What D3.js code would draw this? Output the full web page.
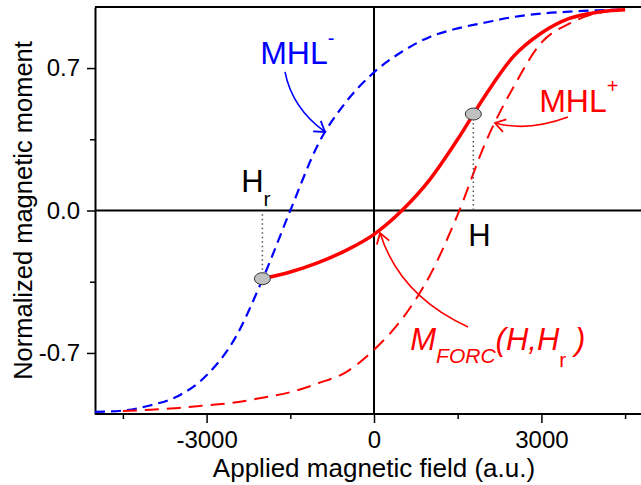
<!DOCTYPE html>
<html>
<head>
<meta charset="utf-8">
<script src="https://cdn.jsdelivr.net/npm/d3@7"></script>
<style>
  body { margin: 0; background: #fff; }
  svg { display: block; font-family: Arial, "Liberation Sans", sans-serif; }
</style>
</head>
<body>
<div id="chart"></div>
<script>
// Descending major loop branch (MHL-)
const fieldDesc = [-5000, -4500, -4000, -3500, -3000, -2500, -2000, -1500, -1000, -500,
    0, 500, 1000, 1500, 2000, 2500, 3000, 3500, 4000, 4500];
const mhlMinus = [-0.99, -0.983, -0.957, -0.91, -0.81, -0.632, -0.34, 0.0, 0.326, 0.534,
    0.679, 0.78, 0.853, 0.895, 0.924, 0.951, 0.968, 0.977, 0.984, 0.988];

// Ascending major loop branch (MHL+)
const fieldAsc = [-4500, -4000, -3500, -3000, -2500, -2000, -1500, -1000, -500,
    0, 500, 1000, 1500, 2000, 2500, 3000, 3500, 4000, 4500];
const mhlPlus = [-0.985, -0.979, -0.970, -0.957, -0.944, -0.92, -0.893, -0.849, -0.794,
    -0.684, -0.534, -0.32, -0.02, 0.335, 0.607, 0.825, 0.918, 0.97, 0.986];

// First-order reversal curve starting at Hr
const forcField = [-2000, -1500, -1000, -500, 0, 500, 1000, 1500, 2000, 2500, 3000, 3500, 4000, 4500];
const forcMoment = [-0.335, -0.302, -0.256, -0.196, -0.117, 0.0, 0.152, 0.35, 0.568, 0.757,
    0.872, 0.944, 0.974, 0.986];

// Marked points
const reversalField = -2000, reversalMoment = -0.335;
const pointField = 1780, pointMoment = 0.474;

// Ticks
const xMajor = [-3000, 0, 3000];
const xMinor = [-4500, -1500, 1500, 4500];
const yMajor = [-0.7, 0, 0.7];
const yMinor = [-0.35, 0.35];

const svgW = 641, svgH = 485;
const plotL = 95, plotR = 653, plotT = 7, plotB = 414;
const fontFam = "Arial, 'Liberation Sans', sans-serif";

const svg = d3.select("#chart")
    .append("svg")
    .attr("width", svgW)
    .attr("height", svgH);

const x = d3.scaleLinear().domain([-5000, 5000]).range([plotL, plotR]);
const y = d3.scaleLinear().domain([-1, 1]).range([plotB, plotT]);

const fmtX = d => String(d);
const fmtY = d => d3.format(".1f")(d).replace("−", "-");

// zero lines
svg.append("line")
    .attr("x1", x(0)).attr("x2", x(0))
    .attr("y1", plotT).attr("y2", plotB)
    .attr("stroke", "#000").attr("stroke-width", 2);
svg.append("line")
    .attr("x1", plotL).attr("x2", svgW)
    .attr("y1", y(0)).attr("y2", y(0))
    .attr("stroke", "#000").attr("stroke-width", 2);

// top frame
svg.append("line")
    .attr("x1", plotL).attr("x2", svgW)
    .attr("y1", plotT).attr("y2", plotT)
    .attr("stroke", "#000").attr("stroke-width", 2);

// X axis
const gx = svg.append("g").attr("transform", `translate(0,${plotB})`);
gx.call(d3.axisBottom(x).tickValues(xMajor).tickFormat(fmtX).tickSize(9).tickSizeOuter(0).tickPadding(8));
gx.append("g").call(d3.axisBottom(x).tickValues(xMinor).tickFormat("").tickSize(5).tickSizeOuter(0))
    .select(".domain").remove();
gx.selectAll(".domain").attr("stroke-width", 2).attr("d", `M${plotL},0H${svgW}`);
gx.selectAll(".tick line").attr("stroke-width", 1.5);
gx.selectAll(".tick text").attr("font-size", 24).attr("font-family", fontFam).attr("fill", "#000");

// Y axis
const gy = svg.append("g").attr("transform", `translate(${plotL},0)`);
gy.call(d3.axisLeft(y).tickValues(yMajor).tickFormat(fmtY).tickSize(8).tickSizeOuter(0).tickPadding(7));
gy.append("g").call(d3.axisLeft(y).tickValues(yMinor).tickFormat("").tickSize(5).tickSizeOuter(0))
    .select(".domain").remove();
gy.selectAll(".domain").attr("stroke-width", 2);
gy.selectAll(".tick line").attr("stroke-width", 1.5);
gy.selectAll(".tick text").attr("font-size", 24).attr("font-family", fontFam).attr("fill", "#000");

// axis labels
svg.append("text")
    .attr("x", x(0))
    .attr("y", 477)
    .attr("text-anchor", "middle")
    .attr("font-size", 26)
    .text("Applied magnetic field (a.u.)");

svg.append("text")
    .attr("transform", "rotate(-90)")
    .attr("x", -y(0))
    .attr("y", 32)
    .attr("text-anchor", "middle")
    .attr("font-size", 25.5)
    .text("Normalized magnetic moment");

// curves
const line = d3.line()
    .x(d => x(d[0]))
    .y(d => y(d[1]))
    .curve(d3.curveMonotoneX);

svg.append("path")
    .datum(d3.zip(fieldDesc, mhlMinus))
    .attr("d", line)
    .attr("fill", "none")
    .attr("stroke", "#0000ff")
    .attr("stroke-width", 2.2)
    .attr("stroke-dasharray", "10,6");

svg.append("path")
    .datum(d3.zip(fieldAsc, mhlPlus))
    .attr("d", line)
    .attr("fill", "none")
    .attr("stroke", "#ff0000")
    .attr("stroke-width", 2)
    .attr("stroke-dasharray", "14,8");

svg.append("path")
    .datum(d3.zip(forcField, forcMoment))
    .attr("d", line)
    .attr("fill", "none")
    .attr("stroke", "#ff0000")
    .attr("stroke-width", 3.5);

// dotted guides to the field axis
svg.append("line")
    .attr("x1", x(reversalField)).attr("x2", x(reversalField))
    .attr("y1", y(reversalMoment)).attr("y2", y(0) + 2)
    .attr("stroke", "#555").attr("stroke-width", 1.5).attr("stroke-dasharray", "1.5,3");
svg.append("line")
    .attr("x1", x(pointField)).attr("x2", x(pointField))
    .attr("y1", y(pointMoment)).attr("y2", y(0) - 1)
    .attr("stroke", "#555").attr("stroke-width", 1.5).attr("stroke-dasharray", "1.5,3");

svg.selectAll(".marker-dot")
    .data([[reversalField, reversalMoment], [pointField, pointMoment]])
    .enter()
    .append("ellipse")
    .attr("cx", d => x(d[0]))
    .attr("cy", d => y(d[1]))
    .attr("rx", 8)
    .attr("ry", 6)
    .attr("fill", "#c0c0c0")
    .attr("stroke", "#333")
    .attr("stroke-width", 1);

// arrow heads
const defs = svg.append("defs");
[["blue", "#0000ff"], ["red", "#ff0000"]].forEach(([id, c]) => {
    defs.append("marker")
        .attr("id", "arrow-" + id)
        .attr("viewBox", "0 0 12 16")
        .attr("refX", 11)
        .attr("refY", 8)
        .attr("markerUnits", "userSpaceOnUse")
        .attr("markerWidth", 12)
        .attr("markerHeight", 16)
        .attr("orient", "auto")
        .append("path")
        .attr("d", "M1,1.5L11,8L1,14.5")
        .attr("fill", "none")
        .attr("stroke", c)
        .attr("stroke-width", 1.8);
});

// annotation arrows: start, control, end in data units
const arrows = [
    { color: "blue", pts: [[-1595, 0.681], [-1470, 0.504], [-878, 0.386]] },
    { color: "red", pts: [[3477, 0.459], [2760, 0.386], [2168, 0.43]] },
    { color: "red", pts: [[1685, -0.572], [466, -0.42], [108, -0.111]] }
];
arrows.forEach(a => {
    const [p0, c, p1] = a.pts;
    const path = d3.path();
    path.moveTo(x(p0[0]), y(p0[1]));
    path.quadraticCurveTo(x(c[0]), y(c[1]), x(p1[0]), y(p1[1]));
    svg.append("path")
        .attr("d", path.toString())
        .attr("fill", "none")
        .attr("stroke", a.color === "blue" ? "#0000ff" : "#ff0000")
        .attr("stroke-width", 1.6)
        .attr("marker-end", `url(#arrow-${a.color})`);
});

// annotation labels
const mhlm = svg.append("text")
    .attr("x", x(-2040)).attr("y", y(0.72))
    .attr("fill", "#0000ff").attr("font-size", 32);
mhlm.append("tspan").text("MHL");
mhlm.append("tspan").attr("font-size", 20).attr("dy", -19).text("-");

const mhlp = svg.append("text")
    .attr("x", x(2960)).attr("y", y(0.484))
    .attr("fill", "#ff0000").attr("font-size", 32);
mhlp.append("tspan").text("MHL");
mhlp.append("tspan").attr("font-size", 20).attr("dy", -19).text("+");

const hr = svg.append("text")
    .attr("x", x(-2380)).attr("y", y(0.091))
    .attr("fill", "#000").attr("font-size", 31);
hr.append("tspan").text("H");
hr.append("tspan").attr("font-size", 21).attr("dy", 14).text("r");

svg.append("text")
    .attr("x", x(1690)).attr("y", y(-0.174))
    .attr("fill", "#000").attr("font-size", 31)
    .text("H");

const mf = svg.append("text")
    .attr("x", x(650)).attr("y", y(-0.685))
    .attr("fill", "#ff0000").attr("font-size", 31);
mf.append("tspan").attr("font-style", "italic").text("M");
mf.append("tspan").attr("font-style", "italic").attr("font-size", 21).attr("dy", 13).text("FORC");
mf.append("tspan").attr("font-style", "italic").attr("dy", -13).text("(H,H");
mf.append("tspan").attr("font-size", 21).attr("dy", 17).text("r");
mf.append("tspan").attr("font-style", "italic").attr("dy", -17).text(" )");
</script>
</body>
</html>
